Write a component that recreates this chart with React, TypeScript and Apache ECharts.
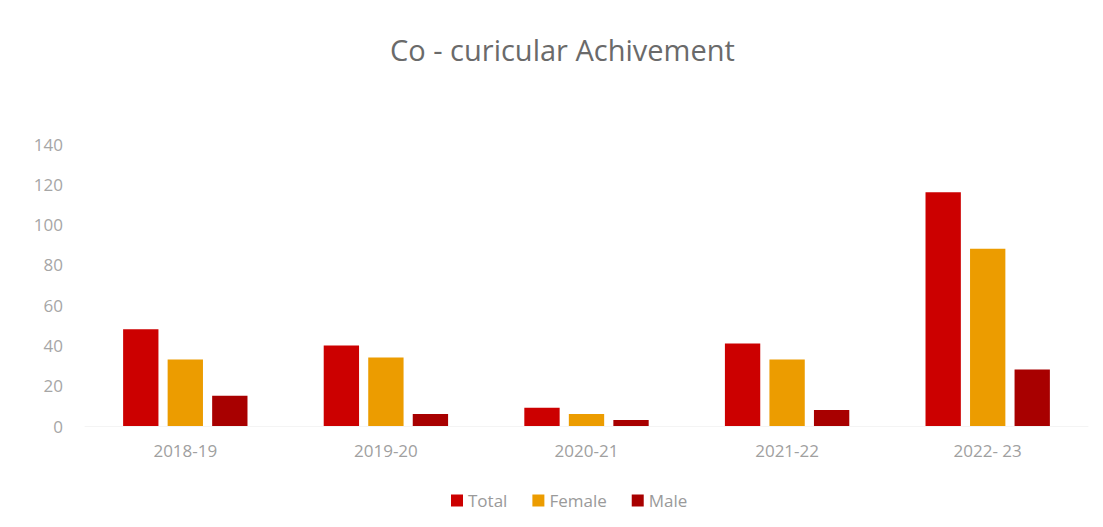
import React, { useEffect, useRef } from "react";
import * as echarts from "echarts";

const categories = ["2018-19", "2019-20", "2020-21", "2021-22", "2022- 23"];
const totalValues = [48, 40, 9, 41, 116];
const femaleValues = [33, 34, 6, 33, 88];
const maleValues = [15, 6, 3, 8, 28];
const seriesNames = ["Total", "Female", "Male"];
const colors = ["#CC0000", "#EC9C00", "#A80000"];

export default function App() {
  const ref = useRef<HTMLDivElement>(null);
  useEffect(() => {
    if (!ref.current) return;
    const chart = echarts.init(ref.current, null, { renderer: "svg" });
    const data = [totalValues, femaleValues, maleValues];
    chart.setOption({
      animation: false,
      backgroundColor: "#ffffff",
      title: {
        text: "Co - curicular Achivement",
        left: 385,
        top: 30,
        textStyle: {
          fontFamily: "Open Sans",
          fontSize: 29,
          fontWeight: "normal",
          color: "#6a6a6a",
        },
      },
      legend: {
        data: seriesNames,
        bottom: 13,
        left: 446,
        itemWidth: 12,
        itemHeight: 12,
        itemGap: 25,
        icon: "rect",
        textStyle: { fontFamily: "Open Sans", fontSize: 17, color: "#9a9a9a" },
      },
      grid: { left: 85, right: 15, top: 144, bottom: 101, containLabel: false },
      xAxis: {
        type: "category",
        data: categories,
        axisLine: { show: true, lineStyle: { color: "#f4f4f4" } },
        axisTick: { show: false },
        axisLabel: {
          fontFamily: "Open Sans",
          fontSize: 17,
          color: "#a0a0a0",
          margin: 16,
        },
      },
      yAxis: {
        type: "value",
        min: 0,
        max: 140,
        interval: 20,
        axisLine: { show: false },
        axisTick: { show: false },
        splitLine: { show: false },
        axisLabel: {
          fontFamily: "Open Sans",
          fontSize: 17,
          color: "#a6a6a6",
          margin: 22,
        },
      },
      series: seriesNames.map((name, i) => ({
        name,
        type: "bar",
        data: data[i],
        barGap: "26%",
        barCategoryGap: "38%",
        itemStyle: { color: colors[i] },
      })),
    });
    return () => chart.dispose();
  }, []);
  return <div ref={ref} style={{ width: 1103, height: 527, position: "absolute", left: 0, top: 0 }} />;
}
